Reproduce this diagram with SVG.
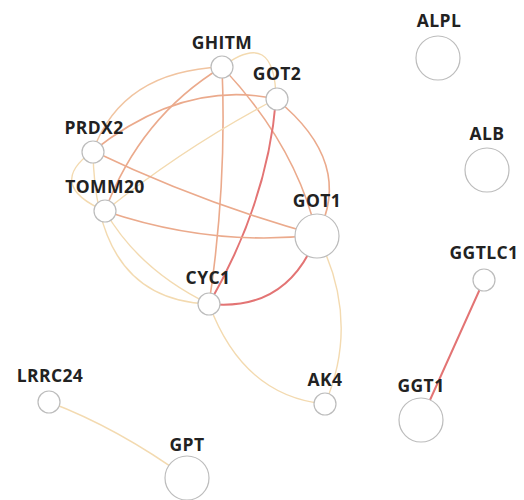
<svg xmlns="http://www.w3.org/2000/svg" width="524" height="500" viewBox="0 0 524 500">
<style>
.e{fill:none;stroke-linecap:round}
.tan{stroke:#f3dab0;stroke-width:1.4}
.peach{stroke:#f1c4a0;stroke-width:1.4}
.org{stroke:#ebaa8c;stroke-width:1.6}
.red{stroke:#e37474;stroke-width:2}
.n circle{fill:#ffffff;stroke:#bcbcbc;stroke-width:1.2}
.n text{font-family:"Open Sans","Liberation Sans",sans-serif;font-weight:700;font-size:17.5px;fill:#222222;text-anchor:middle;letter-spacing:0.4px}
</style>
<rect width="524" height="500" fill="#ffffff"/>
<g id="edges">
<path class="e tan" d="M222,67 Q275,27 276,99"/>
<path class="e peach" d="M222,67 Q122,71 93,151"/>
<path class="e org" d="M222,67 Q140,117 105,211"/>
<path class="e org" d="M222,67 Q227,185 209,304"/>
<path class="e org" d="M222,67 Q296,145 317,235"/>
<path class="e org" d="M276,99 Q355,163 317,235"/>
<path class="e red" d="M276,99 Q268,201 209,304"/>
<path class="e org" d="M276,99 Q184,79 93,151"/>
<path class="e tan" d="M276,99 Q186,146 105,211"/>
<path class="e org" d="M93,151 Q201,203 317,235"/>
<path class="e org" d="M105,211 Q211,247 317,235"/>
<path class="e tan" d="M105,211 Q139,270 209,304"/>
<path class="e tan" d="M93,151 Q95,300 209,304"/>
<path class="e tan" d="M93,151 Q45,185 105,211"/>
<path class="e red" d="M209,304 Q288,312 317,235"/>
<path class="e tan" d="M209,304 Q243,396 325,404"/>
<path class="e tan" d="M317,235 Q361,320 325,404"/>
<path class="e red" d="M484,280 L421,420"/>
<path class="e tan" d="M49,402 Q118,428 187,478"/>
</g>
<g id="GHITM" class="n"><circle cx="222" cy="67" r="11"/><text x="222" y="49">GHITM</text></g>
<g id="GOT2" class="n"><circle cx="277" cy="99" r="11"/><text x="277" y="80">GOT2</text></g>
<g id="PRDX2" class="n"><circle cx="93" cy="152" r="11"/><text x="94" y="134">PRDX2</text></g>
<g id="TOMM20" class="n"><circle cx="105" cy="211" r="11"/><text x="105" y="193">TOMM20</text></g>
<g id="GOT1" class="n"><circle cx="317" cy="236" r="22"/><text x="317" y="207">GOT1</text></g>
<g id="CYC1" class="n"><circle cx="209" cy="304" r="11"/><text x="208" y="284">CYC1</text></g>
<g id="AK4" class="n"><circle cx="325" cy="404" r="11"/><text x="325" y="386">AK4</text></g>
<g id="LRRC24" class="n"><circle cx="49" cy="402" r="11"/><text x="50" y="382">LRRC24</text></g>
<g id="GPT" class="n"><circle cx="187" cy="478" r="22"/><text x="187" y="451">GPT</text></g>
<g id="ALPL" class="n"><circle cx="438" cy="58" r="22"/><text x="439" y="27">ALPL</text></g>
<g id="ALB" class="n"><circle cx="487" cy="170" r="22"/><text x="487" y="140">ALB</text></g>
<g id="GGTLC1" class="n"><circle cx="484" cy="280" r="11"/><text x="484" y="259">GGTLC1</text></g>
<g id="GGT1" class="n"><circle cx="421" cy="420" r="22"/><text x="421" y="392">GGT1</text></g>
</svg>
